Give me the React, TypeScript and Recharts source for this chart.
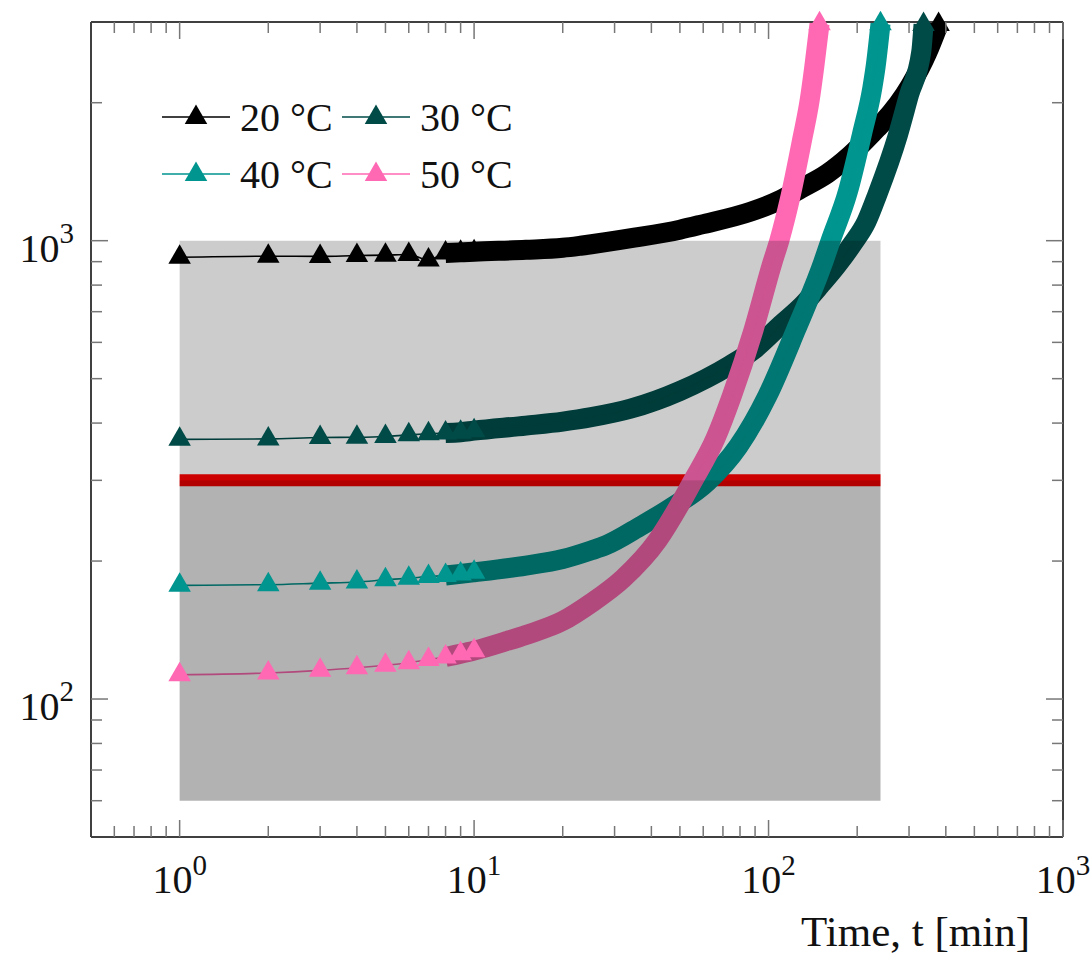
import React from "react";
import {
  LineChart,
  Line,
  XAxis,
  YAxis,
  ReferenceArea,
  ReferenceLine,
  Legend,
} from "recharts";

// time [min] and value for each temperature
const t20 = [1, 2, 3, 4, 5, 6, 7, 8, 9, 10, 15, 20, 23, 35, 50, 59, 87, 110, 129, 158, 190, 234, 245, 303, 345, 378];
const v20 = [920, 925, 924, 928, 930, 933, 908, 940, 943, 946, 955, 965, 975, 1015, 1057, 1084, 1157, 1228, 1300, 1400, 1539, 1760, 1815, 2180, 2560, 2964];

const t30 = [1, 2, 3, 4, 5, 6, 7, 8, 9, 10, 15, 20, 25, 34, 50, 74, 89, 110, 131, 150, 171, 193, 215, 234, 275, 300, 330, 336];
const v30 = [368.6, 369.4, 372, 372.5, 374, 377, 379, 380.6, 382, 385, 395, 403, 412, 430, 470, 535, 578, 655, 725, 800, 885, 985, 1100, 1260, 1700, 2080, 2580, 2964];

const t40 = [1, 2, 3, 4, 5, 6, 7, 8, 9, 10, 15, 20, 25, 28, 37, 46, 62, 79, 99, 124, 153, 162, 186, 208, 225, 231, 240];
const v40 = [177, 177.6, 179, 180, 182, 183.5, 185, 186, 187.5, 189, 195.5, 202, 211, 216.5, 239, 260, 298, 356, 458, 640, 894, 995, 1280, 1716, 2150, 2397, 2974];

const t50 = [1, 2, 3, 4, 5, 6, 7, 8, 9, 10, 13, 15, 20, 25, 32, 42, 50, 55, 66, 75, 89, 103, 109, 118, 130, 138, 143, 149];
const v50 = [113, 114, 115.5, 117, 118.5, 120, 122, 123.5, 125.5, 127.5, 134, 138, 148, 162, 183, 222, 266, 297, 370, 458, 640, 894, 1005, 1228, 1660, 2029, 2397, 2974];

const names = ["20 °C", "30 °C", "40 °C", "50 °C"];
const colors = ["#000000", "#004b48", "#00958f", "#ff69b4"];

const xMajor = [1, 10, 100, 1000];
const xMinor = [0.6, 0.7, 0.8, 0.9, 2, 3, 4, 5, 6, 7, 8, 9, 20, 30, 40, 50, 60, 70, 80, 90, 200, 300, 400, 500, 600, 700, 800, 900];
const yMajor = [100, 1000];
const yMinor = [60, 70, 80, 90, 200, 300, 400, 500, 600, 700, 800, 900, 2000];

const limitLevel = 300;
const boxStart = 1;
const boxEnd = 240;
const boxTop = 1000;
const boxBottom = 60;

const FONT = "'Liberation Serif', 'DejaVu Serif', serif";
const R = 13; // marker radius
const BAND_FROM = 8; // markers merge into a band from here on

const tri = (cx: number, cy: number, r: number) =>
  `M${cx},${cy - r}L${cx + r * 0.866},${cy + r / 2}L${cx - r * 0.866},${cy + r / 2}Z`;

const series = [t20, t30, t40, t50].map((ts, i) => {
  const vs = [v20, v30, v40, v50][i];
  return {
    name: names[i],
    color: colors[i],
    rows: ts.map((t, j) => ({ t, v: vs[j], band: t >= BAND_FROM ? vs[j] : null })),
  };
});

const exp = (v: number) => String(Math.round(Math.log10(v)));

function BottomTick(props: any) {
  const { x, y, payload } = props;
  const major = xMajor.includes(payload.value);
  return (
    <g>
      <line x1={x} x2={x} y1={y} y2={y - (major ? 17 : 11)} stroke="#777" strokeWidth={1.5} />
      {major && (
        <text x={x} y={y + 56} textAnchor="middle" fontFamily={FONT} fontSize={40} fill="#111">
          <tspan>10</tspan>
          <tspan dy={-18} fontSize={29}>{exp(payload.value)}</tspan>
        </text>
      )}
    </g>
  );
}

function TopTick(props: any) {
  const { x, y, payload } = props;
  const major = xMajor.includes(payload.value);
  return <line x1={x} x2={x} y1={y} y2={y + (major ? 17 : 11)} stroke="#777" strokeWidth={1.5} />;
}

function LeftTick(props: any) {
  const { x, y, payload } = props;
  const major = yMajor.includes(payload.value);
  return (
    <g>
      <line x1={x} x2={x + (major ? 17 : 11)} y1={y} y2={y} stroke="#777" strokeWidth={1.5} />
      {major && (
        <text x={x - 17} y={y + 21} textAnchor="end" fontFamily={FONT} fontSize={40} fill="#111">
          <tspan>10</tspan>
          <tspan dy={-19} fontSize={29}>{exp(payload.value)}</tspan>
        </text>
      )}
    </g>
  );
}

function RightTick(props: any) {
  const { x, y, payload } = props;
  const major = yMajor.includes(payload.value);
  return <line x1={x} x2={x - (major ? 17 : 11)} y1={y} y2={y} stroke="#777" strokeWidth={1.5} />;
}

const xLabel = (props: any) => {
  const vb = props.viewBox;
  return (
    <text x={vb.x + vb.width - 33} y={vb.y + 109} textAnchor="end" fontFamily={FONT} fontSize={43} fill="#111">
      Time, t [min]
    </text>
  );
};

const makeDot = (color: string, last: number) => (p: any) => {
  const { cx, cy, index, payload } = p;
  if (cx == null || cy == null || !(payload.t <= 10 || index === last)) {
    return <g key={`n${index}`} />;
  }
  return <path key={`d${index}`} d={tri(cx, cy, R)} fill={color} />;
};

function LegendBox() {
  return (
    <div style={{ position: "relative", width: 380, height: 110 }}>
      {series.map((s, i) => (
        <svg
          key={s.name}
          width={180}
          height={50}
          style={{ position: "absolute", left: (i % 2) * 180, top: Math.floor(i / 2) * 57, overflow: "visible" }}
        >
          <line x1={0} x2={68} y1={25} y2={25} stroke={s.color} strokeWidth={1.6} />
          <path d={tri(34, 25.5, R)} fill={s.color} />
          <text x={78} y={39} fontFamily={FONT} fontSize={40} fill="#111">
            {s.name}
          </text>
        </svg>
      ))}
    </div>
  );
}

const axisLine = { stroke: "#404040", strokeWidth: 2 };

export default function App() {
  return (
    <div style={{ position: "absolute", left: 0, top: 0, width: 1091, height: 956, background: "#fff" }}>
      <LineChart width={1091} height={956} margin={{ top: 21, right: 27, bottom: 118, left: 90 }}>
        <XAxis
          dataKey="t"
          type="number"
          scale="log"
          domain={[0.5, 1000]}
          ticks={[...xMinor, ...xMajor]}
          interval={0}
          height={1}
          tickSize={0}
          tickMargin={0}
          tick={<BottomTick />}
          axisLine={axisLine}
          label={xLabel}
        />
        <XAxis
          xAxisId="top"
          orientation="top"
          dataKey="t"
          type="number"
          scale="log"
          domain={[0.5, 1000]}
          allowDataOverflow
          ticks={[...xMinor, ...xMajor]}
          interval={0}
          height={1}
          tickSize={0}
          tickMargin={0}
          tick={<TopTick />}
          axisLine={axisLine}
        />
        <YAxis
          type="number"
          scale="log"
          domain={[50, 3000]}
          ticks={[...yMinor, ...yMajor]}
          interval={0}
          width={1}
          tickSize={0}
          tickMargin={0}
          tick={<LeftTick />}
          axisLine={axisLine}
        />
        <YAxis
          yAxisId="right"
          orientation="right"
          type="number"
          scale="log"
          domain={[50, 3000]}
          allowDataOverflow
          ticks={[...yMinor, ...yMajor]}
          interval={0}
          width={1}
          tickSize={0}
          tickMargin={0}
          tick={<RightTick />}
          axisLine={axisLine}
        />

        {/* limit line sits under the curves */}
        <ReferenceLine
          segment={[
            { x: boxStart, y: limitLevel },
            { x: boxEnd, y: limitLevel },
          ]}
          stroke="#ff0000"
          strokeWidth={12}
          zIndex={300}
        />

        {series.map((s, i) => [
          <Line
            key={`band${i}`}
            data={s.rows}
            dataKey="band"
            type="monotone"
            stroke={s.color}
            strokeWidth={20}
            strokeLinejoin="round"
            dot={false}
            activeDot={false}
            legendType="none"
            isAnimationActive={false}
          />,
          <Line
            key={`line${i}`}
            data={s.rows}
            dataKey="v"
            name={s.name}
            type="monotone"
            stroke={s.color}
            strokeWidth={1.6}
            dot={makeDot(s.color, s.rows.length - 1)}
            activeDot={false}
            isAnimationActive={false}
          />,
        ])}

        {/* shaded zones drawn over everything, semi transparent */}
        <ReferenceArea
          x1={boxStart}
          x2={boxEnd}
          y1={limitLevel}
          y2={boxTop}
          fill="#000"
          fillOpacity={0.2}
          stroke="none"
          zIndex={450}
        />
        <ReferenceArea
          x1={boxStart}
          x2={boxEnd}
          y1={boxBottom}
          y2={limitLevel}
          fill="#000"
          fillOpacity={0.3}
          stroke="none"
          zIndex={450}
        />

        <Legend
          layout="horizontal"
          verticalAlign="middle"
          align="center"
          wrapperStyle={{ left: 162, top: 92, width: 380, height: 110 }}
          content={() => <LegendBox />}
        />
      </LineChart>
    </div>
  );
}
